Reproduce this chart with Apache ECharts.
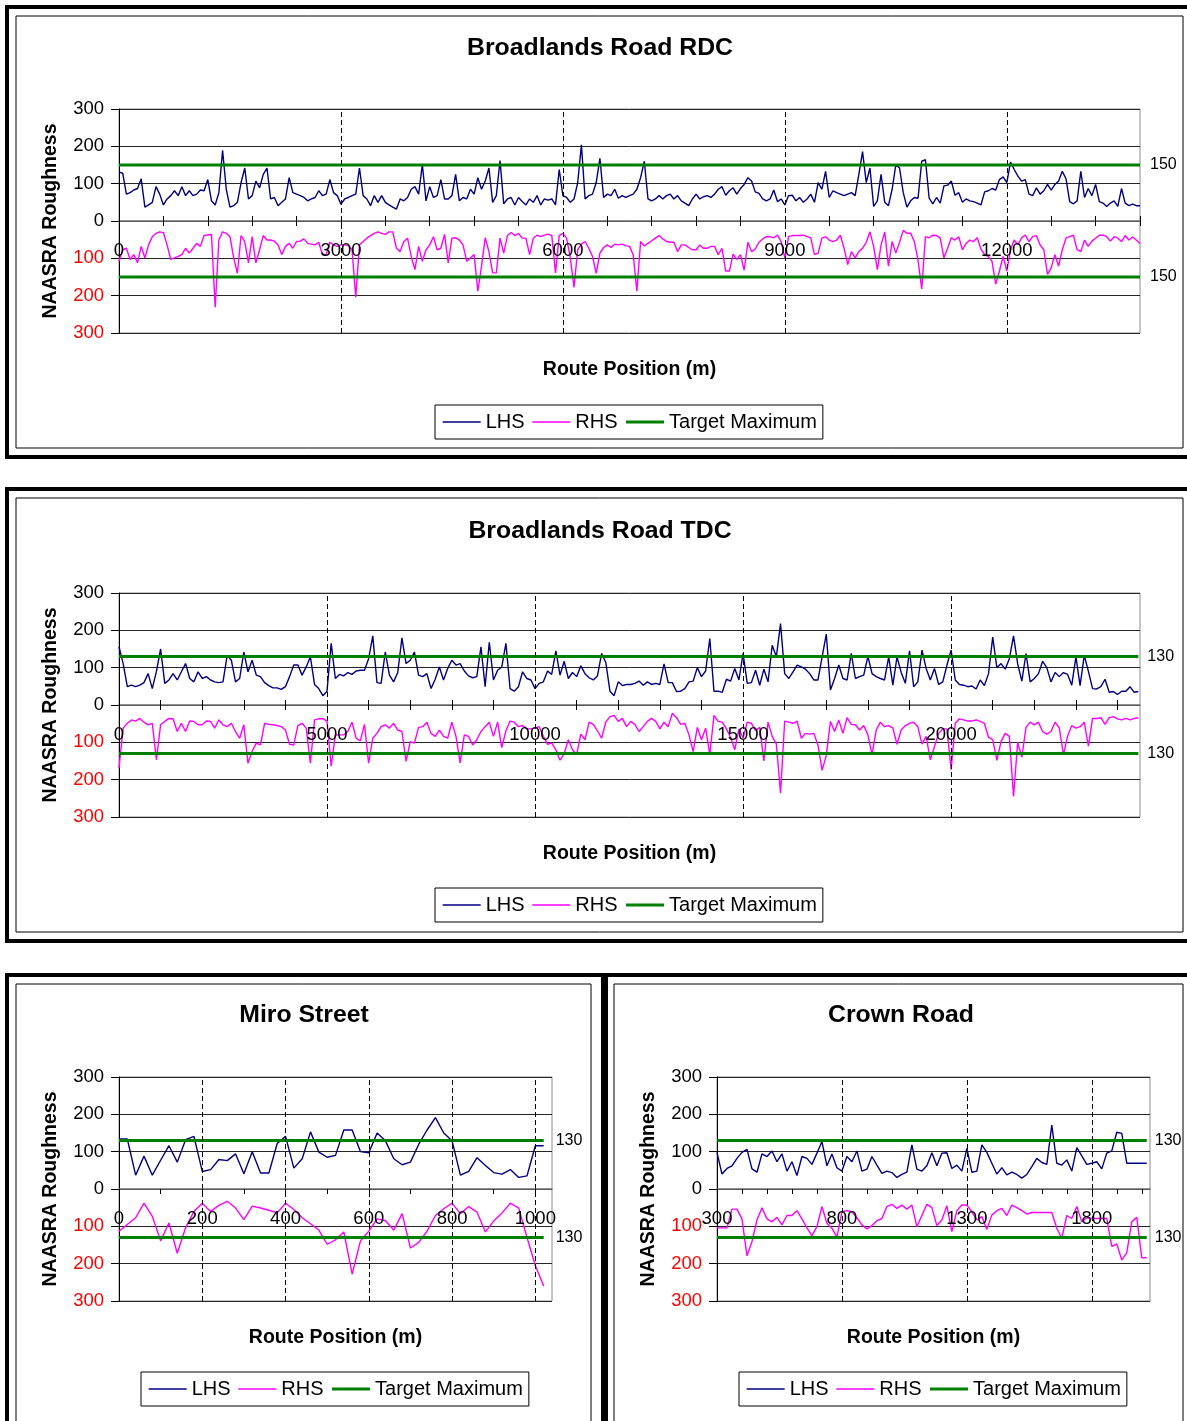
<!DOCTYPE html>
<html>
<head>
<meta charset="utf-8">
<title>NAASRA Roughness</title>
<script src="https://cdn.jsdelivr.net/npm/echarts@6/dist/echarts.min.js"></script>
<style>
  html, body { margin: 0; padding: 0; background: #ffffff; overflow: hidden; }
  #chart { width: 1187px; height: 1421px; }
</style>
</head>
<body>
<div id="chart"></div>
<script>
// ---- Broadlands Road RDC : roughness every 50 m from 0 m ----
const rdcStart = 0;
const rdcStep = 50;
const rdcTarget = 150;
const rdcLhs = [
  131,128,72,76,83,87,113,37,43,50, 92,72,43,59,68,81,68,92,68,81,
  68,72,83,81,111,54,43,76,189,85, 37,41,50,103,142,59,68,107,89,125,
  142,59,63,41,50,59,116,76,72,68, 63,54,59,63,81,68,72,111,76,68,
  45,59,63,68,72,142,68,59,41,68, 50,68,50,43,37,32,59,54,63,85,
  92,72,151,54,92,63,68,111,59,59, 68,125,54,63,59,85,72,116,85,107,
  142,50,68,162,46,59,63,43,63,52, 43,59,50,68,43,59,56,59,43,138,
  68,63,50,59,103,204,59,68,72,103, 168,63,72,68,85,61,68,63,68,72,
  85,116,160,59,54,59,68,59,68,72, 59,68,54,48,41,59,72,59,65,68,
  63,72,85,92,69,81,89,72,87,98, 116,107,78,74,59,54,59,83,52,59,
  43,68,69,54,63,50,59,72,50,103, 85,133,63,81,76,72,68,72,76,68,
  125,186,103,142,39,54,125,50,41,85, 151,142,76,37,54,63,61,160,164,61,
  46,63,48,94,96,107,69,76,50,59, 54,52,48,43,78,81,87,83,111,118,
  103,158,138,120,107,111,72,68,89,72, 81,98,83,98,107,133,113,52,46,54,
  133,63,87,68,98,52,48,39,48,54, 39,87,48,41,45,41,41
];
const rdcRhs = [
  108,77,73,103,90,112,68,99,64,42, 33,29,31,64,103,99,95,90,73,86,
  73,60,68,39,37,36,231,51,29,33, 42,99,140,39,55,112,42,112,77,39,
  51,51,54,64,90,68,60,73,55,54, 48,60,62,64,57,90,90,57,64,68,
  64,64,66,77,204,64,55,46,39,33, 29,33,36,29,29,73,82,55,46,95,
  130,68,108,77,64,42,77,73,36,112, 46,45,51,64,108,99,90,188,121,45,
  82,139,139,46,86,39,31,39,33,46, 46,90,46,38,42,38,35,39,139,39,
  33,46,99,178,77,62,55,73,95,140, 86,71,64,71,62,64,62,66,68,90,
  188,55,67,60,53,46,39,48,55,57, 57,82,64,64,71,77,77,64,73,73,
  68,68,90,73,134,134,89,103,90,132, 57,82,75,57,48,42,42,45,38,55,
  99,42,39,39,39,38,42,45,90,86, 46,42,51,55,51,38,73,117,82,99,
  82,73,57,29,68,130,64,29,121,55, 86,57,25,33,33,55,105,182,42,45,
  38,39,46,99,73,45,51,42,77,60, 51,55,45,75,90,95,108,169,134,95,
  134,77,51,64,45,38,55,42,39,64, 77,143,125,90,121,77,46,42,38,77,
  82,51,68,54,46,38,38,42,54,42, 46,55,39,51,43,51,60
];
const rdcTicks = [0,600,1200,1800,2400,3000,3600,4200,4800,5400,6000,6600,7200,7800,
  8400,9000,9600,10200,10800,11400,12000,12600,13200,13800];
const rdcLabels = [0,3000,6000,9000,12000];

// ---- Broadlands Road TDC : roughness every 100 m from 0 m ----
const tdcStart = 0;
const tdcStep = 100;
const tdcTarget = 130;
const tdcLhs = [
  156,111,49,53,49,53,60,84,44,90, 150,58,67,84,67,89,111,71,62,89,
  71,76,67,62,60,62,133,120,62,71, 142,89,120,80,76,60,52,46,46,42,
  49,76,107,107,80,102,129,55,44,25, 37,165,71,82,78,87,82,91,93,93,
  124,185,60,58,142,80,62,87,180,111, 120,142,80,76,84,44,69,102,67,98,
  120,107,111,91,78,73,76,156,49,168, 67,93,102,165,44,37,49,89,71,67,
  44,58,62,91,82,145,80,117,71,87, 76,105,84,73,67,78,138,114,37,25,
  62,52,55,55,58,64,53,62,55,58, 55,110,60,60,36,37,44,62,64,100,
  76,91,178,37,37,34,69,64,98,67, 138,58,60,93,53,96,62,160,129,218,
  84,71,89,107,102,96,84,67,67,129, 190,40,71,107,71,67,138,71,76,80,
  130,84,76,71,67,129,53,129,87,58, 145,49,62,147,98,67,98,55,62,107,
  147,67,55,53,49,51,43,67,52,84, 182,100,111,96,124,185,110,64,138,62,
  71,84,117,100,62,87,76,87,82,53, 129,52,133,90,44,43,49,69,34,36,
  28,37,37,49,34,36
];
const tdcRhs = [
  169,62,49,40,43,36,46,53,49,147, 53,44,36,37,71,49,71,43,44,53,
  53,43,44,62,40,53,58,49,71,89, 53,156,124,102,107,49,52,53,55,58,
  67,105,107,55,49,62,156,40,37,36, 44,164,80,80,80,71,46,89,96,52,
  156,89,76,58,53,62,49,67,71,151, 98,102,60,58,46,76,84,67,84,89,
  46,84,155,80,84,107,93,71,58,46, 84,46,114,69,43,46,58,55,64,64,
  62,58,84,105,102,120,148,130,93,120, 133,78,93,46,52,69,89,46,31,28,
  44,36,58,44,52,71,58,44,36,44, 64,46,58,22,34,52,49,80,125,60,
  93,62,133,28,44,46,64,87,120,64, 89,46,49,69,60,150,46,84,105,236,
  43,46,49,43,89,76,78,76,107,175, 135,44,71,40,76,34,52,53,67,55,
  80,133,67,46,58,55,62,105,67,55, 49,46,58,105,84,147,111,76,64,64,
  173,49,37,40,43,43,40,44,49,87, 93,148,98,76,84,245,100,140,60,46,
  53,46,71,78,71,46,62,133,84,55, 62,58,46,110,36,36,34,52,34,31,
  37,40,36,40,36,34
];
const tdcTicks = [0,1000,2000,3000,4000,5000,6000,7000,8000,9000,10000,11000,12000,
  13000,14000,15000,16000,17000,18000,19000,20000,21000,22000,23000,24000];
const tdcLabels = [0,5000,10000,15000,20000];

// ---- Miro Street : roughness every 20 m from 0 m ----
const miroStart = 0;
const miroStep = 20;
const miroTarget = 130;
const miroLhs = [
  134,134,37,88,37,77,116,72,132,141, 47,52,79,76,94,41,100,43,43,122,
  141,56,81,153,99,85,90,158,158,100, 97,150,129,81,65,72,120,158,191,150,
  129,37,47,84,63,44,40,52,31,35, 116,116
];
const miroRhs = [
  113,95,77,38,73,139,91,172,104,60, 38,60,44,33,51,82,46,51,57,64,
  38,55,77,93,110,148,136,115,228,139, 113,80,85,110,66,158,143,113,71,53,
  38,66,47,62,115,86,64,38,51,130, 205,260
];
const miroTicks = [0,100,200,300,400,500,600,700,800,900,1000];
const miroLabels = [0,200,400,600,800,1000];

// ---- Crown Road : roughness every 20 m from 300 m ----
const crownStart = 300;
const crownStep = 20;
const crownTarget = 130;
const crownLhs = [
  98,40,55,62,82,98,106,54,45,94, 87,102,73,94,48,73,36,87,82,66,
  96,127,62,94,57,48,87,73,102,48, 53,87,64,42,48,44,31,39,45,118,
  53,48,62,97,62,96,97,55,64,48, 109,45,48,118,98,69,40,57,38,45,
  39,29,39,60,82,71,66,171,69,64, 78,48,111,89,66,69,73,54,96,102,
  152,149,69,69,69,69,69
];
const crownRhs = [
  104,104,104,54,54,80,179,141,83,50, 80,88,76,96,71,71,58,80,104,125,
  101,47,92,105,129,61,58,61,77,96, 107,98,85,79,47,41,52,43,54,43,
  101,71,41,50,98,83,45,114,58,43, 43,61,83,74,108,70,58,52,71,43,
  50,58,67,63,63,63,63,63,105,132, 71,79,47,88,77,79,79,79,79,154,
  147,190,171,88,76,184,184
];
const crownTicks = [300,400,500,600,700,800,900,1000,1100,1200,1300,1400,1500,1600,
  1700,1800,1900,2000];
const crownLabels = [300,800,1300,1800];

const seriesNames = ['LHS', 'RHS', 'Target Maximum'];
const yTicks = [-300, -200, -100, 0, 100, 200, 300];

// ---- layout of the four framed charts ----
const FONT = '"Liberation Sans", Arial, Helvetica, sans-serif';
const COLORS = { lhs: '#000080', rhs: '#ff00ff', target: '#008000' };
const panels = [
  { title: 'Broadlands Road RDC', titleXY: [600, 48],
    outer: [7, 7, 1200, 450], inner: [16, 16, 1167, 432],
    grid: [119, 109, 1021, 224], xMin: 0, xMax: 13800, legend: [435, 405],
    crossTicks: true, endLabelGap: 10,
    start: rdcStart, step: rdcStep, lhs: rdcLhs, rhs: rdcRhs, target: rdcTarget,
    ticks: rdcTicks, labels: rdcLabels },
  { title: 'Broadlands Road TDC', titleXY: [600, 531],
    outer: [7, 489, 1200, 452], inner: [16, 498, 1167, 434],
    grid: [119, 593, 1021, 224], xMin: 0, xMax: 24540, legend: [435, 888],
    crossTicks: true, endLabelGap: 9,
    start: tdcStart, step: tdcStep, lhs: tdcLhs, rhs: tdcRhs, target: tdcTarget,
    ticks: tdcTicks, labels: tdcLabels },
  { title: 'Miro Street', titleXY: [304, 1015],
    outer: [7, 975, 596, 470], inner: [16, 984, 575, 460],
    grid: [119, 1077, 433, 224], xMin: 0, xMax: 1040, legend: [141, 1372],
    crossTicks: false, endLabelGap: 12,
    start: miroStart, step: miroStep, lhs: miroLhs, rhs: miroRhs, target: miroTarget,
    ticks: miroTicks, labels: miroLabels },
  { title: 'Crown Road', titleXY: [901, 1015],
    outer: [606, 975, 600, 470], inner: [614, 984, 569, 460],
    grid: [717, 1077, 433, 224], xMin: 300, xMax: 2033, legend: [739, 1372],
    crossTicks: false, endLabelGap: 8,
    start: crownStart, step: crownStep, lhs: crownLhs, rhs: crownRhs, target: crownTarget,
    ticks: crownTicks, labels: crownLabels }
];

function toPoints(start, step, values, sign) {
  return values.map((v, i) => [start + i * step, sign * v]);
}

const option = {
  animation: false,
  backgroundColor: '#ffffff',
  textStyle: { fontFamily: FONT, color: '#000' },
  grid: [], xAxis: [], yAxis: [], series: [], legend: [], graphic: []
};

panels.forEach((p, k) => {
  // frames and title
  option.graphic.push(
    { type: 'rect', z: -10, silent: true,
      shape: { x: p.outer[0], y: p.outer[1], width: p.outer[2], height: p.outer[3] },
      style: { fill: 'none', stroke: '#000', lineWidth: 4 } },
    { type: 'rect', z: -10, silent: true,
      shape: { x: p.inner[0], y: p.inner[1], width: p.inner[2], height: p.inner[3] },
      style: { fill: 'none', stroke: '#000', lineWidth: 1 } },
    { type: 'text', silent: true, x: p.titleXY[0], y: p.titleXY[1],
      style: { text: p.title, font: 'bold 24.8px ' + FONT, fill: '#000',
               textAlign: 'center', textVerticalAlign: 'middle' } }
  );

  option.grid.push({
    left: p.grid[0], top: p.grid[1], width: p.grid[2], height: p.grid[3],
    show: true, borderColor: '#8c8c8c', borderWidth: 1, backgroundColor: 'transparent'
  });

  // the position axis runs through the middle of the plot, where roughness is 0
  const xIndex = option.xAxis.length;
  option.xAxis.push({
    type: 'value', gridIndex: k, min: p.xMin, max: p.xMax, position: 'bottom',
    interval: p.ticks[1] - p.ticks[0],
    offset: -p.grid[3] / 2,
    z: 5,
    axisLine: { show: true, onZero: false, lineStyle: { color: '#6e6e6e', width: 1.5 } },
    axisTick: { show: true, customValues: p.ticks, length: 5, lineStyle: { color: '#000', width: 1 } },
    axisLabel: { customValues: p.labels, fontSize: 18.5, color: '#000', margin: 20,
                 fontFamily: FONT, formatter: v => String(v) },
    splitLine: { show: false },
    name: 'Route Position (m)', nameLocation: 'middle', nameGap: 139,
    nameTextStyle: { fontWeight: 'bold', fontSize: 19.5, color: '#000', fontFamily: FONT }
  });
  if (p.crossTicks) {
    // upper half of the tick marks, so they cross the zero line
    option.xAxis.push({
      type: 'value', gridIndex: k, min: p.xMin, max: p.xMax, position: 'top',
      interval: p.ticks[1] - p.ticks[0],
      offset: -p.grid[3] / 2,
      z: 5,
      axisLine: { show: false, onZero: false },
      axisTick: { show: true, customValues: p.ticks, length: 5, lineStyle: { color: '#000', width: 1 } },
      axisLabel: { show: false },
      splitLine: { show: false }
    });
  }

  option.yAxis.push({
    type: 'value', gridIndex: k, min: yTicks[0], max: yTicks[yTicks.length - 1], interval: 100,
    axisLine: { show: true, onZero: false, lineStyle: { color: '#000', width: 1 } },
    axisTick: { show: true, length: 8, lineStyle: { color: '#000', width: 1 } },
    axisLabel: {
      fontSize: 18.5, color: '#000', margin: 15, fontFamily: FONT,
      formatter: v => (v < 0 ? '{neg|' + (-v) + '}' : String(v)),
      rich: { neg: { color: '#ff0000', fontSize: 18.5, fontFamily: FONT } }
    },
    splitLine: { show: true, lineStyle: { color: '#262626', width: 1 } },
    name: 'NAASRA Roughness', nameLocation: 'middle', nameGap: 58, nameRotate: 90,
    nameTextStyle: { fontWeight: 'bold', fontSize: 19.5, color: '#000', fontFamily: FONT }
  });

  const lastX = p.start + (p.lhs.length - 1) * p.step;
  const dashes = p.labels.filter(v => v > p.xMin).map(v => ({ xAxis: v }));
  const endLabel = { show: true, formatter: String(p.target), color: '#000', fontSize: 16,
                     fontFamily: FONT, distance: p.endLabelGap };

  option.series.push(
    { type: 'line', name: seriesNames[0], xAxisIndex: xIndex, yAxisIndex: k,
      data: toPoints(p.start, p.step, p.lhs, 1), symbol: 'none', z: 3,
      lineStyle: { color: COLORS.lhs, width: 1.4 }, itemStyle: { color: COLORS.lhs },
      markLine: { silent: true, symbol: ['none', 'none'], label: { show: false },
                  lineStyle: { color: '#000', width: 1, type: [5, 3] }, data: dashes } },
    { type: 'line', name: seriesNames[1], xAxisIndex: xIndex, yAxisIndex: k,
      data: toPoints(p.start, p.step, p.rhs, -1), symbol: 'none', z: 3,
      lineStyle: { color: COLORS.rhs, width: 1.4 }, itemStyle: { color: COLORS.rhs } },
    { type: 'line', name: seriesNames[2], xAxisIndex: xIndex, yAxisIndex: k,
      data: [[p.start, p.target], [lastX, p.target]], symbol: 'none', z: 4,
      lineStyle: { color: COLORS.target, width: 3 }, itemStyle: { color: COLORS.target },
      endLabel: endLabel },
    { type: 'line', name: seriesNames[2], xAxisIndex: xIndex, yAxisIndex: k,
      data: [[p.start, -p.target], [lastX, -p.target]], symbol: 'none', z: 4,
      lineStyle: { color: COLORS.target, width: 3 }, itemStyle: { color: COLORS.target },
      endLabel: endLabel }
  );

  option.legend.push({
    left: p.legend[0], top: p.legend[1], orient: 'horizontal',
    data: [
      { name: seriesNames[0], lineStyle: { width: 1.4, color: COLORS.lhs } },
      { name: seriesNames[1], lineStyle: { width: 1.4, color: COLORS.rhs } },
      { name: seriesNames[2], lineStyle: { width: 3, color: COLORS.target } }
    ],
    selectedMode: false,
    itemWidth: 38, itemHeight: 10, itemGap: 7, padding: [7, 6, 7, 7],
    itemStyle: { opacity: 0 },
    borderColor: '#000', borderWidth: 1, backgroundColor: '#fff',
    textStyle: { fontSize: 20, color: '#000', fontFamily: FONT }
  });
});

const chart = echarts.init(document.getElementById('chart'), null, { renderer: 'canvas' });
chart.setOption(option);
</script>
</body>
</html>
